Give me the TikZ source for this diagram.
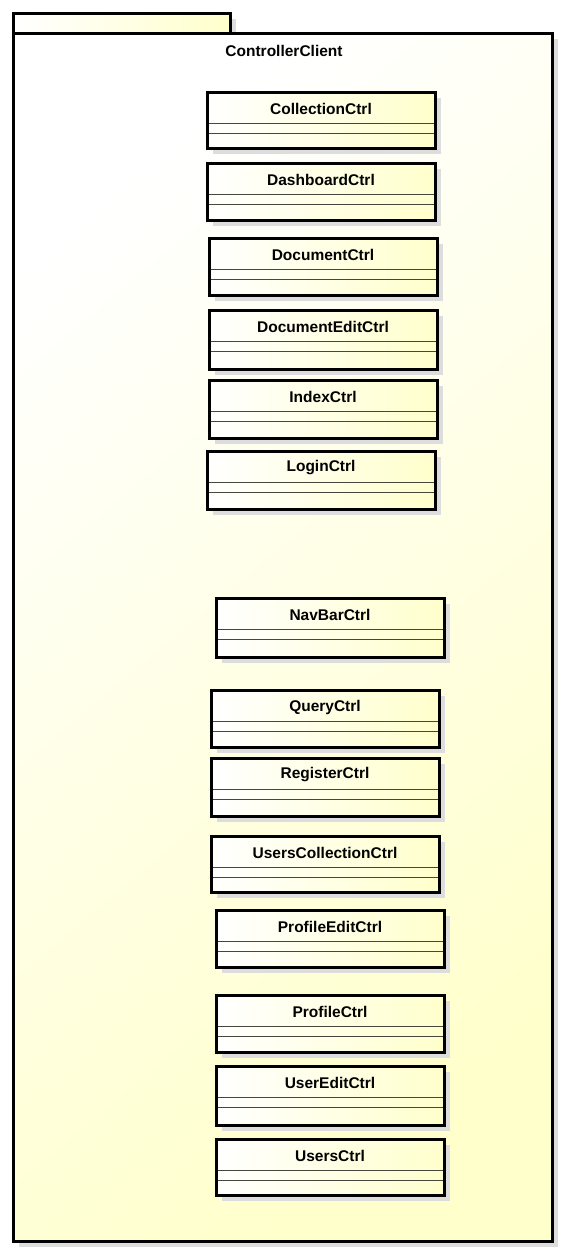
\documentclass[tikz,border=0pt]{standalone}
\usepackage{fontspec}
\setmainfont{Liberation Sans}
\definecolor{pkgyellow}{RGB}{255,255,204}
\definecolor{clsyellow}{RGB}{255,255,204}
\definecolor{shadowgrey}{RGB}{221,221,221}
\definecolor{sepgrey}{RGB}{70,70,60}
\tikzset{
  shadowbox/.style={fill=shadowgrey, draw=none},
  classbox/.style={left color=white, right color=clsyellow, draw=black, line width=3pt, inner sep=0pt, outer sep=0pt},
  pkgbox/.style={top color=white, bottom color=pkgyellow, shading angle=40, draw=black, line width=3pt, inner sep=0pt, outer sep=0pt},
  tabbox/.style={left color=white, right color=pkgyellow, draw=black, line width=3pt, inner sep=0pt, outer sep=0pt},
  sepline/.style={draw=sepgrey, line width=1pt, shorten <=1.5pt, shorten >=1.5pt},
  titletext/.style={font=\fontsize{15.5}{18}\selectfont\bfseries, inner sep=0pt, anchor=center},
}
% #1 name, #2 x1, #3 y1, #4 x2, #5 y2, #6 text
\newcommand\umlclassbox[6]{%
  \fill[shadowbox] (#2+6,#3+6) rectangle (#4+6,#5+6);
  \node[classbox, anchor=north west, minimum width=#4-#2, minimum height=#5-#3] (#1) at (#2,#3) {};
  \draw[sepline] ([yshift=-31pt]#1.north west) -- ([yshift=-31pt]#1.north east);
  \draw[sepline] ([yshift=-41pt]#1.north west) -- ([yshift=-41pt]#1.north east);
  \node[titletext] (#1-title) at ([yshift=-17pt]#1.north) {#6};
}
\begin{document}
\begin{tikzpicture}[x=1pt,y=-1pt]
\useasboundingbox (0,0) rectangle (565,1253);
% package
\fill[shadowbox] (19,19) rectangle (236,39);
\fill[shadowbox] (19,39) rectangle (558,1247);
\node[tabbox, anchor=north west, minimum width=217, minimum height=20] (tab) at (13,13) {};
\node[pkgbox, anchor=north west, minimum width=539, minimum height=1208] (pkg) at (13,33) {};
\node[titletext] (pkgtitle) at (284,51) {ControllerClient};
% classes
\umlclassbox{c1}{207}{92}{435}{148}{CollectionCtrl}
\umlclassbox{c2}{207}{163}{435}{220}{DashboardCtrl}
\umlclassbox{c3}{209}{238}{437}{295}{DocumentCtrl}
\umlclassbox{c4}{209}{310}{437}{369}{DocumentEditCtrl}
\umlclassbox{c5}{209}{380}{437}{438}{IndexCtrl}
\umlclassbox{c6}{207}{451}{435}{509}{LoginCtrl}
\umlclassbox{c7}{216}{598}{444}{657}{NavBarCtrl}
\umlclassbox{c8}{211}{690}{439}{747}{QueryCtrl}
\umlclassbox{c9}{211}{758}{439}{816}{RegisterCtrl}
\umlclassbox{c10}{211}{836}{439}{892}{UsersCollectionCtrl}
\umlclassbox{c11}{216}{910}{444}{967}{ProfileEditCtrl}
\umlclassbox{c12}{216}{995}{444}{1052}{ProfileCtrl}
\umlclassbox{c13}{216}{1066}{444}{1125}{UserEditCtrl}
\umlclassbox{c14}{216}{1139}{444}{1195}{UsersCtrl}
\end{tikzpicture}
\end{document}
